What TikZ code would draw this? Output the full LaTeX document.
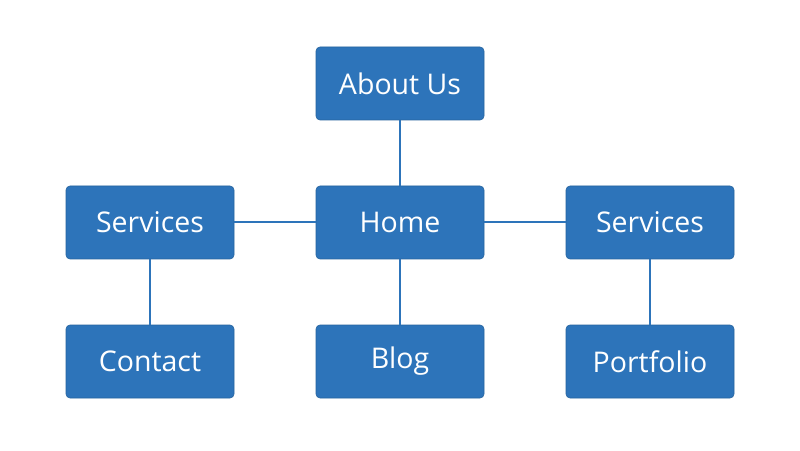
\documentclass[tikz,border=0pt]{standalone}
\usepackage{fontspec}
\setmainfont{Open Sans}
\definecolor{boxblue}{HTML}{2D74BA}
\begin{document}
\begin{tikzpicture}[x=1pt,y=1pt,
  pagebox/.style={draw=boxblue!85!black,line width=0.6pt,fill=boxblue,rounded corners=4pt,minimum width=168pt,minimum height=73pt,inner sep=0pt,text=white,font=\fontsize{28.5}{32}\selectfont},
  link/.style={draw=boxblue,line width=2pt}]
\useasboundingbox (0,0) rectangle (800,450);
\fill[white] (0,0) rectangle (800,450);
\node[pagebox] (about) at (400,366.5) {About Us};
\node[pagebox] (home) at (400,227.5) {Home};
\node[pagebox] (servl) at (150,227.5) {Services};
\node[pagebox] (servr) at (650,227.5) {Services};
\node[pagebox] (contact) at (150,88.5) {Contact};
\node[pagebox] (blog) at (400,88.5) {Blog};
\node[pagebox] (portfolio) at (650,88.5) {Portfolio};
\draw[link] (about) -- (home);
\draw[link] (servl) -- (home);
\draw[link] (home) -- (servr);
\draw[link] (servl) -- (contact);
\draw[link] (home) -- (blog);
\draw[link] (servr) -- (portfolio);
\end{tikzpicture}
\end{document}
